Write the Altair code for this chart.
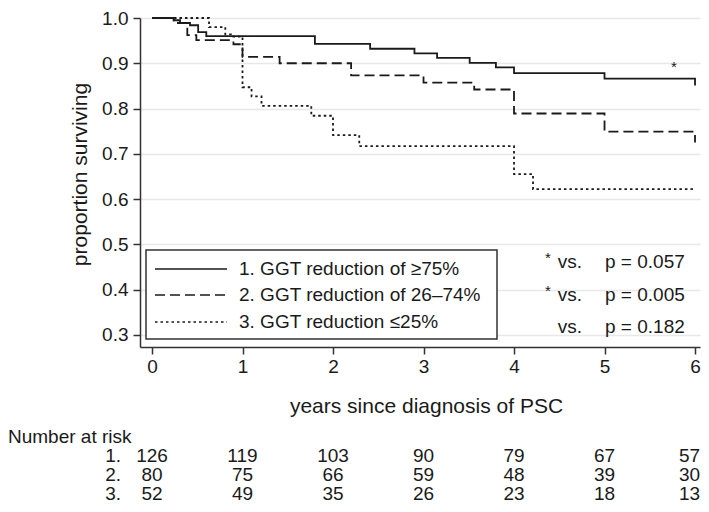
import altair as alt
import pandas as pd

# ---------------- data ----------------
groups = ["1. GGT reduction of ≥75%", "2. GGT reduction of 26–74%", "3. GGT reduction ≤25%"]

t1 = [0.00, 0.24, 0.31, 0.42, 0.51, 0.60, 1.80, 2.41, 2.90, 3.15, 3.51, 3.80, 4.00, 5.00, 6.00]
s1 = [1.000, 0.995, 0.989, 0.984, 0.969, 0.960, 0.943, 0.932, 0.922, 0.912, 0.901, 0.891, 0.878, 0.866, 0.851]

t2 = [0.00, 0.24, 0.39, 0.49, 0.90, 1.00, 1.41, 2.20, 3.00, 3.56, 4.00, 5.00, 6.00]
s2 = [1.000, 0.989, 0.962, 0.951, 0.942, 0.914, 0.900, 0.873, 0.857, 0.842, 0.789, 0.749, 0.725]

t3 = [0.00, 0.63, 0.81, 0.90, 1.00, 1.10, 1.21, 1.76, 2.00, 2.29, 4.00, 4.21, 6.00]
s3 = [1.000, 0.980, 0.964, 0.959, 0.847, 0.827, 0.806, 0.784, 0.741, 0.717, 0.655, 0.622, 0.622]

years = [0, 1, 2, 3, 4, 5, 6]
risk1 = [126, 119, 103, 90, 79, 67, 57]
risk2 = [80, 75, 66, 59, 48, 39, 30]
risk3 = [52, 49, 35, 26, 23, 18, 13]
row_labels = ["1.", "2.", "3."]

vs_labels = ["vs.", "vs.", "vs."]
vs_stars = ["*", "*", ""]
p_labels = ["p = 0.057", "p = 0.005", "p = 0.182"]

y_ticks = [0.3, 0.4, 0.5, 0.6, 0.7, 0.8, 0.9, 1.0]
x_ticks = [0, 1, 2, 3, 4, 5, 6]

# ---------------- styling ----------------
FONT = "Liberation Sans"
INK = "#1a1a1a"
DASHES = [[1, 0], [10, 5], [2.5, 3]]

W, H = 560, 329
xscale = alt.Scale(domain=[-0.1326, 6.055], nice=False, zero=False)
yscale = alt.Scale(domain=[0.273, 1.0], nice=False, zero=False)

xaxis = alt.Axis(values=x_ticks, format="d", grid=False,
                 title="years since diagnosis of PSC",
                 titleX=286, titleY=59, titleBaseline="middle",
                 titleAlign="center")

rows = []
for g, ts, ss in zip(groups, [t1, t2, t3], [s1, s2, s3]):
    for i, (t, s) in enumerate(zip(ts, ss)):
        rows.append({"group": g, "t": t, "s": s, "i": i})
curves_df = pd.DataFrame(rows)

curves = alt.Chart(curves_df).mark_line(
    interpolate="step-after", strokeWidth=1.8, color=INK
).encode(
    x=alt.X("t:Q", scale=xscale, axis=xaxis),
    y=alt.Y("s:Q", scale=yscale,
            axis=alt.Axis(values=y_ticks, format=".1f", grid=True,
                          title="proportion surviving",
                          titleX=-60, titleY=156, titleAngle=-90,
                          titleBaseline="middle", titleAlign="center")),
    strokeDash=alt.StrokeDash("group:N", scale=alt.Scale(domain=groups, range=DASHES), legend=None),
    detail="group:N",
    order="i:Q",
)

# asterisk on top curve
star_curve = alt.Chart(pd.DataFrame({"lab": ["*"]})).mark_text(
    font=FONT, fontSize=15, color=INK, baseline="middle", align="center"
).encode(x=alt.value(534), y=alt.value(49), text="lab:N")

# legend box
legend_box = alt.Chart(pd.DataFrame({"a": [0]})).mark_rect(
    fill="white", stroke="#333333", strokeWidth=1.5
).encode(
    x=alt.value(6), x2=alt.value(357), y=alt.value(232), y2=alt.value(321)
)

legend_layers = []
leg_y = [251, 277, 304]
for g, dash, yy in zip(groups, DASHES, leg_y):
    legend_layers.append(
        alt.Chart(pd.DataFrame({"a": [0]})).mark_rule(
            color=INK, strokeWidth=1.6, strokeDash=dash
        ).encode(x=alt.value(15), x2=alt.value(87), y=alt.value(yy))
    )
    legend_layers.append(
        alt.Chart(pd.DataFrame({"lab": [g]})).mark_text(
            font=FONT, fontSize=19, color=INK, align="left", baseline="middle"
        ).encode(x=alt.value(99), y=alt.value(yy), text="lab:N")
    )

# p-value annotations
ann_layers = []
ann_y = [244, 277, 309]
for vs, st, p, yy in zip(vs_labels, vs_stars, p_labels, ann_y):
    ann_layers.append(
        alt.Chart(pd.DataFrame({"lab": [vs]})).mark_text(
            font=FONT, fontSize=19, color=INK, align="right", baseline="middle"
        ).encode(x=alt.value(442), y=alt.value(yy), text="lab:N")
    )
    ann_layers.append(
        alt.Chart(pd.DataFrame({"lab": [p]})).mark_text(
            font=FONT, fontSize=19, color=INK, align="left", baseline="middle"
        ).encode(x=alt.value(465), y=alt.value(yy), text="lab:N")
    )
    if st:
        ann_layers.append(
            alt.Chart(pd.DataFrame({"lab": [st]})).mark_text(
                font=FONT, fontSize=15, color=INK, align="center", baseline="middle"
            ).encode(x=alt.value(408), y=alt.value(yy - 4), text="lab:N")
        )

# number at risk table
table_layers = [
    alt.Chart(pd.DataFrame({"lab": ["Number at risk"]})).mark_text(
        font=FONT, fontSize=19, color=INK, align="left", baseline="middle"
    ).encode(x=alt.value(-132), y=alt.value(419), text="lab:N")
]
row_y = [438, 457, 476]
for lab, risk, yy in zip(row_labels, [risk1, risk2, risk3], row_y):
    df = pd.DataFrame({"year": years, "n": risk})
    table_layers.append(
        alt.Chart(pd.DataFrame({"lab": [lab]})).mark_text(
            font=FONT, fontSize=19, color=INK, align="right", baseline="middle"
        ).encode(x=alt.value(-19), y=alt.value(yy), text="lab:N")
    )
    table_layers.append(
        alt.Chart(df).transform_filter("datum.year < 6").mark_text(
            font=FONT, fontSize=19, color=INK, align="center", baseline="middle"
        ).encode(x=alt.X("year:Q", scale=xscale, axis=xaxis), y=alt.value(yy), text="n:Q")
    )
    table_layers.append(
        alt.Chart(df).transform_filter("datum.year == 6").mark_text(
            font=FONT, fontSize=19, color=INK, align="right", baseline="middle", dx=5
        ).encode(x=alt.X("year:Q", scale=xscale, axis=xaxis), y=alt.value(yy), text="n:Q")
    )

chart = alt.layer(
    curves, legend_box, *legend_layers, *ann_layers, star_curve, *table_layers
).properties(
    width=W, height=H,
    padding={"left": 132, "top": 10, "right": 1, "bottom": 157},
    autosize=alt.AutoSizeParams(type="none"),
    background="white",
).configure_view(
    stroke=None
).configure_axis(
    labelFont=FONT, labelFontSize=19, labelColor=INK,
    titleFont=FONT, titleFontSize=21, titleFontWeight="normal", titleColor=INK,
    domainColor="#333333", domainWidth=1.5,
    tickColor="#333333", tickWidth=1.5, tickSize=7,
    gridColor="#e8e8e8", gridWidth=1.5,
).configure_axisY(
    labelPadding=5
).configure_axisX(
    labelPadding=3
)

chart.save("out.html", embed_options={"renderer": "svg", "actions": False})
